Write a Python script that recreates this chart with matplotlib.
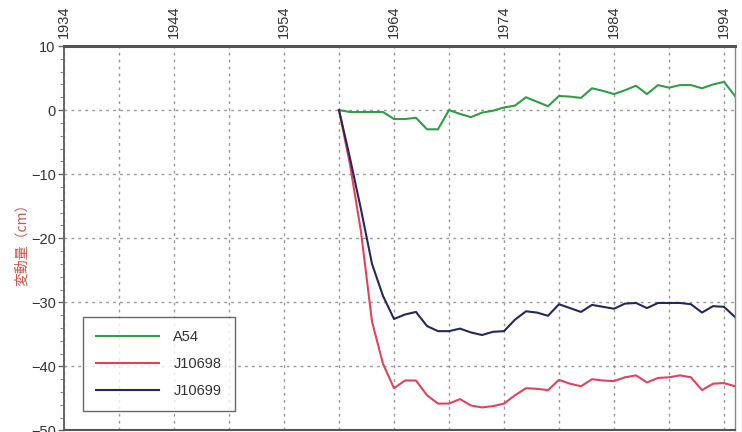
import numpy as np
import matplotlib.pyplot as plt
from matplotlib.ticker import MultipleLocator

# Yearly displacement (cm) at three benchmarks, 1959-1995
years = np.arange(1959, 1996)
a54 = [0, -0.3, -0.3, -0.3, -0.3, -1.4, -1.4, -1.2, -3.0, -3.0,
       0.0, -0.6, -1.1, -0.4, -0.1, 0.4, 0.7, 2.0, 1.3, 0.6,
       2.2, 2.1, 1.9, 3.4, 3.0, 2.5, 3.1, 3.8, 2.5, 3.9,
       3.5, 3.9, 3.9, 3.4, 4.0, 4.4, 2.2]
j10698 = [0, -8.5, -19.0, -33.0, -39.6, -43.4, -42.2, -42.2, -44.5, -45.8,
          -45.8, -45.1, -46.1, -46.4, -46.2, -45.8, -44.5, -43.4, -43.5, -43.7,
          -42.1, -42.7, -43.1, -42.0, -42.2, -42.3, -41.7, -41.4, -42.5, -41.8,
          -41.7, -41.4, -41.7, -43.7, -42.7, -42.6, -43.1]
j10699 = [0, -7.5, -15.5, -24.0, -29.0, -32.6, -31.9, -31.5, -33.7, -34.5,
          -34.5, -34.1, -34.7, -35.1, -34.6, -34.5, -32.7, -31.4, -31.6, -32.1,
          -30.3, -30.9, -31.5, -30.4, -30.7, -31.0, -30.2, -30.1, -30.9, -30.1,
          -30.1, -30.1, -30.3, -31.6, -30.6, -30.7, -32.3]

series_names = ["A54", "J10698", "J10699"]
series_colors = ["#2f9e44", "#e0445c", "#24285e"]

label_years = [1934, 1944, 1954, 1964, 1974, 1984, 1994]
grid_years = [1939, 1949, 1959, 1969, 1979, 1989]

plt.rcParams["font.family"] = ["Liberation Sans", "DejaVu Sans"]

fig = plt.figure(figsize=(7.42, 4.32), dpi=100)
ax = fig.add_axes([64 / 742, 0.0035, (735 - 64) / 742, 1 - 46 / 432 - 0.0035])

for vals, name, col in zip([a54, j10698, j10699], series_names, series_colors):
    ax.plot(years, vals, color=col, lw=1.5, label=name)

ax.set_xlim(1934, 1995)
ax.set_ylim(-50, 10)

# year labels along the top, grid every five years
ax.set_xticks(label_years)
ax.set_xticks(grid_years, minor=True)
ax.xaxis.tick_top()
ax.tick_params(axis="x", which="both", length=0, pad=6, labelsize=10.5,
               labelcolor="#333333", labelrotation=90)

ax.yaxis.set_major_locator(MultipleLocator(10))
ax.yaxis.set_minor_locator(MultipleLocator(2))
ax.tick_params(axis="y", which="major", length=4, width=1, color="#666666",
               labelsize=10.5, labelcolor="#333333", pad=2)
ax.tick_params(axis="y", which="minor", length=3, width=0.8, color="#888888")

ax.grid(True, which="both", axis="x", color="#999999", lw=1, linestyle=(0, (2, 3)))
ax.grid(True, which="major", axis="y", color="#999999", lw=1, linestyle=(0, (2, 3)))
ax.set_axisbelow(True)

ax.spines["top"].set_linewidth(2.2)
ax.spines["top"].set_color("#555555")
ax.spines["left"].set_linewidth(1.4)
ax.spines["left"].set_color("#666666")
ax.spines["right"].set_linewidth(1.0)
ax.spines["right"].set_color("#888888")
ax.spines["bottom"].set_linewidth(1.5)
ax.spines["bottom"].set_color("#555555")

fig.text(22 / 742, 1 - 241 / 432, "変動量（cm）", rotation=90, ha="center", va="center",
         fontsize=10, color="#c8584a", family=["Noto Sans CJK JP", "DejaVu Sans"])

leg = ax.legend(loc="lower left", bbox_to_anchor=((83 - 64) / 671, (432 - 413) / 384.5),
                fontsize=10.5, frameon=True, fancybox=False, handlelength=4.3,
                labelspacing=0.9, borderpad=0.9, handletextpad=1.0, borderaxespad=0)
leg.get_frame().set_edgecolor("#444444")
leg.get_frame().set_linewidth(1.0)
for txt in leg.get_texts():
    txt.set_color("#333333")

fig.savefig("out.png", dpi=100)
